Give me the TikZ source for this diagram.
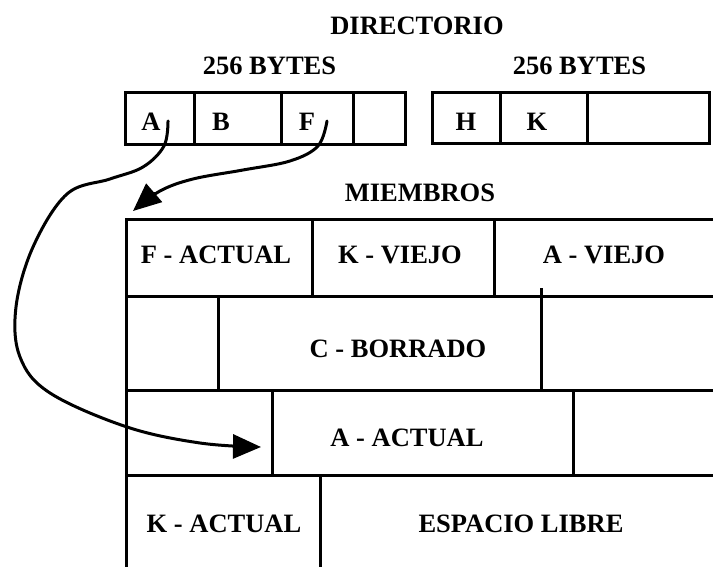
\documentclass[tikz,border=0pt]{standalone}
\usepackage{fontspec}
\setmainfont{Liberation Serif}
\usetikzlibrary{arrows.meta}
\begin{document}
\begin{tikzpicture}[x=1pt,y=-1pt,
  lbl/.style={font=\bfseries\fontsize{26.5}{30}\selectfont, inner sep=0pt, anchor=base},
  rule/.style={line width=3pt, line join=miter, line cap=rect},
  conn/.style={line width=3pt, line cap=round,
    -{Triangle[length=28pt,width=24pt]}}]
\path[use as bounding box, fill=white] (0,0) rectangle (713,567);

% headings
\node[lbl] (dir)  at (417,35)  {DIRECTORIO};
\node[lbl] (bl)   at (269.5,75) {256 BYTES};
\node[lbl] (br)   at (579.5,75) {256 BYTES};
\node[lbl] (memb) at (420,202) {MIEMBROS};

% directory blocks
\draw[rule] (125,93) rectangle (405,145);
\foreach \x in {194,281,353} \draw[rule] (\x,93) -- (\x,145);
\draw[rule] (432,93) rectangle (709,144);
\foreach \x in {500,587} \draw[rule] (\x,93) -- (\x,144);

\node[lbl] (eA) at (151,131) {A};
\node[lbl] (eB) at (221,131) {B};
\node[lbl] (eF) at (307,131) {F};
\node[lbl] (eH) at (466,131) {H};
\node[lbl] (eK) at (537,131) {K};

% member area
\draw[rule] (126,572) -- (126,220) -- (716,220);
\foreach \y in {296,390,475} \draw[rule] (126,\y) -- (716,\y);
\draw[rule] (312,220) -- (312,296);
\draw[rule] (494,220) -- (494,296);
\draw[rule] (218,296) -- (218,390);
\draw[rule] (541,289) -- (541,390);
\draw[rule] (272,390) -- (272,475);
\draw[rule] (573,390) -- (573,475);
\draw[rule] (320,475) -- (320,572);

\node[lbl] (fact) at (216,263) {F - ACTUAL};
\node[lbl] (kvie) at (400,264) {K - VIEJO};
\node[lbl] (avie) at (604,264) {A - VIEJO};
\node[lbl] (cbor) at (398,357) {C - BORRADO};
\node[lbl] (aact) at (407,446) {A - ACTUAL};
\node[lbl] (kact) at (224,532) {K - ACTUAL};
\node[lbl] (free) at (521,532) {ESPACIO LIBRE};

% pointers from the directory entries
\coordinate (aStart) at (168,121);
\coordinate (aEnd)   at (261,447);
\coordinate (fStart) at (327,121);
\coordinate (fEnd)   at (133,211);

\draw[conn] plot[smooth, tension=0.6] coordinates {(aStart) (164,146) (143,167) (110,179) (67,194) (33,247) (16,307) (20,357) (50,393) (127,427) (200,443) (aEnd)};
\draw[conn] plot[smooth, tension=0.6] coordinates {(fStart) (318,146) (290,161) (243,170) (193,179) (160,191) (fEnd)};
\end{tikzpicture}
\end{document}
